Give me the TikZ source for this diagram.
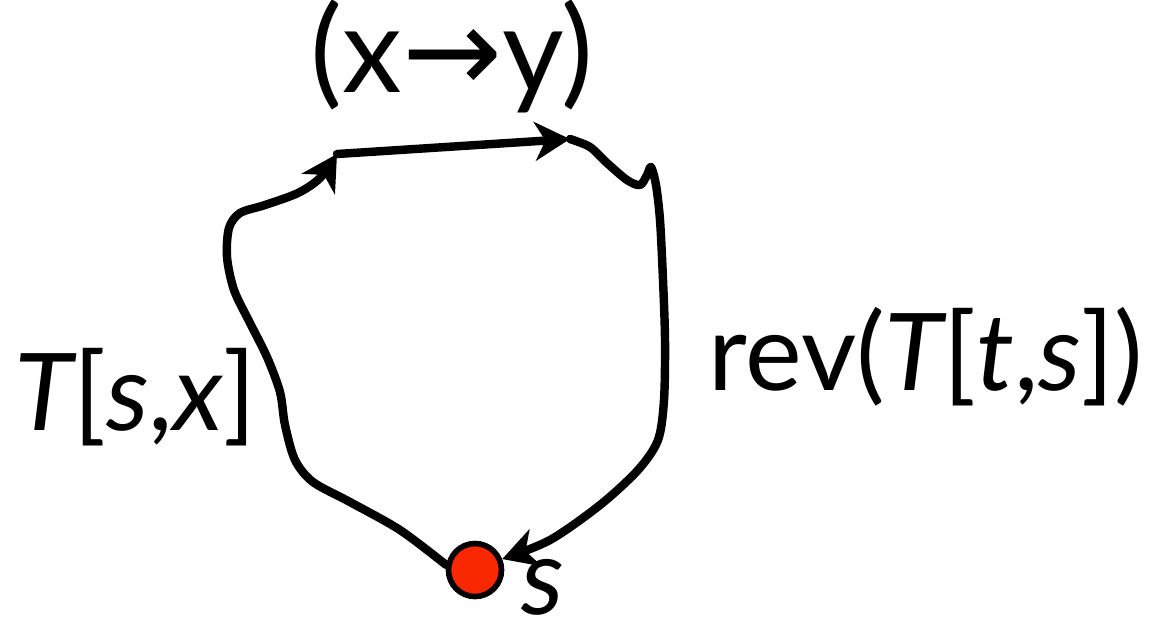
\documentclass[tikz,border=0pt]{standalone}
\usepackage{fontspec}
\setmainfont{Lato}
\newfontfamily\symfont{DejaVu Sans}
\usetikzlibrary{arrows.meta,backgrounds}
\definecolor{dotred}{RGB}{250,40,0}

\begin{document}
\begin{tikzpicture}[x=0.01cm,y=-0.01cm,
  curve/.style={line width=2.4pt,line cap=round,line join=round},
  tip/.style={-{Stealth[length=10pt,width=11pt,inset=3pt]}},
  lbl/.style={font=\fontsize{30.5}{36}\selectfont,inner sep=0pt}]
  \useasboundingbox (0,0) rectangle (1149,635);
  \node[circle,draw,line width=1.6pt,fill=dotred,minimum size=0.53cm,inner sep=0pt] (s) at (475,570) {};
  \coordinate (x) at (337,154);
  \coordinate (y) at (570,139);
  \node[lbl,font=\fontsize{34}{40}\selectfont,anchor=base] (edge) at (452,92) {(x{\symfont→}y)};
  \node[lbl,anchor=base west] (left) at (14,430) {\itshape T\upshape[\itshape s\upshape,\itshape x\upshape]};
  \node[lbl,anchor=base west] (right) at (708,390) {rev(\itshape T\upshape[\itshape t\upshape,\itshape s\upshape])};
  \node[lbl,anchor=base west] (slbl) at (521,614) {\itshape s};
  \begin{pgfonlayer}{background}
    \draw[curve,tip] plot[smooth] coordinates {(s.170) (400,530) (350,502) (313,482) (295,460)
      (285,425) (280,392) (267,357) (250,323) (234,290) (227,257) (229,228) (240,213)
      (265,205) (298,193) (320,178) (x)};
    \draw[curve,tip] (x) -- (y);
    \draw[curve,tip] plot[smooth] coordinates {(y) (590,147) (607,163) (627,180) (640,185)
      (647,175) (651,167) (656,185) (660,220) (663,280) (665,340) (664,400) (658,440)
      (638,470) (600,505) (550,540) (s.22)};
  \end{pgfonlayer}
\end{tikzpicture}
\end{document}
